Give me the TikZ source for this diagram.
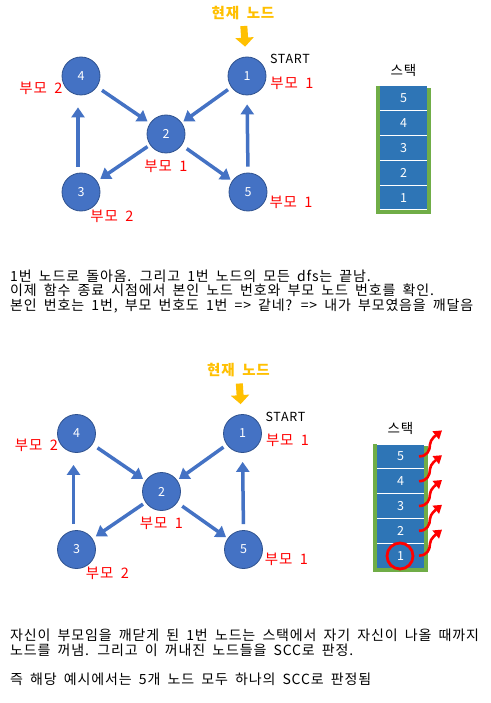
\documentclass[tikz,border=0pt]{standalone}
\usepackage{fontspec}
\setmainfont[LetterSpace=6,WordSpace=1.8]{Noto Sans CJK KR}
\usetikzlibrary{arrows.meta}
\definecolor{nodeblue}{HTML}{4472C4}
\definecolor{nodeedge}{HTML}{2F528F}
\definecolor{cellblue}{HTML}{2E75B6}
\definecolor{stackgreen}{HTML}{70AD47}
\definecolor{curorange}{HTML}{FFC000}
\newcommand\dfsgraph[1]{%
  \node[curlabel] (#1-cur) at (243,13) {현재 노드};
  \node[gnode] (#1-1) at (247,76) {1};
  \node[gnode] (#1-4) at (81,76) {4};
  \node[gnode] (#1-2) at (166,134) {2};
  \node[gnode] (#1-3) at (81,192) {3};
  \node[gnode] (#1-5) at (248,192) {5};
  \draw[curarrow] (#1-cur) -- (#1-1);
  \node[slabel] (#1-start) at (290,59) {START};
  \node[plabel] (#1-p1) at (292,83) {부모 1};
  \node[plabel] (#1-p4) at (41,88) {부모 2};
  \node[plabel] (#1-p2) at (166,166) {부모 1};
  \node[plabel] (#1-p3) at (112,216) {부모 2};
  \node[plabel] (#1-p5) at (291,202) {부모 1};
  \draw[garrow, shorten <=6pt, shorten >=3pt] (#1-4) -- (#1-2);
  \draw[garrow, shorten <=4pt, shorten >=2pt] (#1-1) -- (#1-2);
  \draw[garrow, shorten <=3pt, shorten >=4pt] (#1-2) -- (#1-3);
  \draw[garrow, shorten <=6pt, shorten >=2pt] (#1-2) -- (#1-5);
  \draw[garrow, shorten <=6pt, shorten >=12pt] ([xshift=-3pt]#1-3.north) -- ([xshift=-3pt]#1-4.south);
  \draw[garrow, shorten <=6pt, shorten >=9pt] (#1-5.north) -- (#1-1.south);
}
\newcommand\dfsstack[1]{%
  \node[stitle] (#1-title) at (403.5,70) {스택};
  \foreach \k/\v in {0/5,1/4,2/3,3/2,4/1}{
    \node[cell] (#1-s\v) at (403.5,{98.4+24.8*\k}) {\v};
  }
  \draw[stackgreen, line width=3.5pt] (378,86) -- (378,212) -- (429,212) -- (429,88);
}
\begin{document}
\begin{tikzpicture}[x=1pt,y=-1pt,
  gnode/.style={circle, fill=nodeblue, draw=nodeedge, line width=0.8pt, minimum size=38pt, inner sep=0pt, text=white, font=\fontsize{12.5}{12.5}\selectfont},
  garrow/.style={draw=nodeblue, line width=3.5pt, -{Triangle[length=10pt,width=13pt]}},
  curarrow/.style={draw=curorange, line width=7pt, -{Triangle[length=9pt,width=18pt]}, shorten <=5pt, shorten >=10pt},
  curlabel/.style={text=curorange, font=\fontsize{14.5}{14.5}\selectfont\bfseries, inner sep=1pt},
  plabel/.style={text=red, font=\fontsize{14.5}{14.5}\selectfont, inner sep=1pt},
  slabel/.style={text=black, font=\fontsize{12.5}{12.5}\selectfont, inner sep=1pt},
  stitle/.style={text=black, font=\fontsize{13.5}{13.5}\selectfont, inner sep=1pt},
  cell/.style={rectangle, fill=cellblue, draw=white, line width=1pt, minimum width=48pt, minimum height=24.8pt, inner sep=0pt, text=white, font=\fontsize{12.5}{12.5}\selectfont},
  body/.style={anchor=base west, inner sep=0pt, font=\fontsize{14}{14}\selectfont},
  redarrow/.style={draw=red, line width=2.6pt, -{Triangle[length=8pt,width=10pt]}},
  redring/.style={circle, draw=red, line width=2.8pt, minimum size=26pt, inner sep=0pt}
]
\useasboundingbox (0,0) rectangle (490,703);
\fill[white] (0,0) rectangle (490,703);
% top diagram
\dfsgraph{a}
\dfsstack{as}
% text 1
\node[body] (t1) at (10,281) {1번 노드로 돌아옴. 그리고 1번 노드의 모든 dfs는 끝남.};
\node[body] (t2) at (10,295.5) {이제 함수 종료 시점에서 본인 노드 번호와 부모 노드 번호를 확인.};
\node[body] (t3) at (10,310) {본인 번호는 1번, 부모 번호도 1번 => 같네? => 내가 부모였음을 깨달음};
% bottom diagram
\begin{scope}[shift={(-4.5,357.5)}]
\dfsgraph{b}
\end{scope}
\begin{scope}[shift={(-3,358)}]
\dfsstack{bs}
\end{scope}
\node[redring] (ring) at (400,556) {};
\foreach \v in {5,4,3,2,1}{
  \draw[redarrow] ([xshift=-6pt]bs-s\v.east) .. controls +(8,0) and +(0,6) .. ++(11,-12) .. controls +(0,-5) and +(-5,4) .. ++(12,-14);
}
% text 2
\node[body] (u1) at (10,640) {자신이 부모임을 깨닫게 된 1번 노드는 스택에서 자기 자신이 나올 때까지};
\node[body] (u2) at (10,655) {노드를 꺼냄. 그리고 이 꺼내진 노드들을 SCC로 판정.};
\node[body] (u3) at (10,684) {즉 해당 예시에서는 5개 노드 모두 하나의 SCC로 판정됨};
\end{tikzpicture}
\end{document}
